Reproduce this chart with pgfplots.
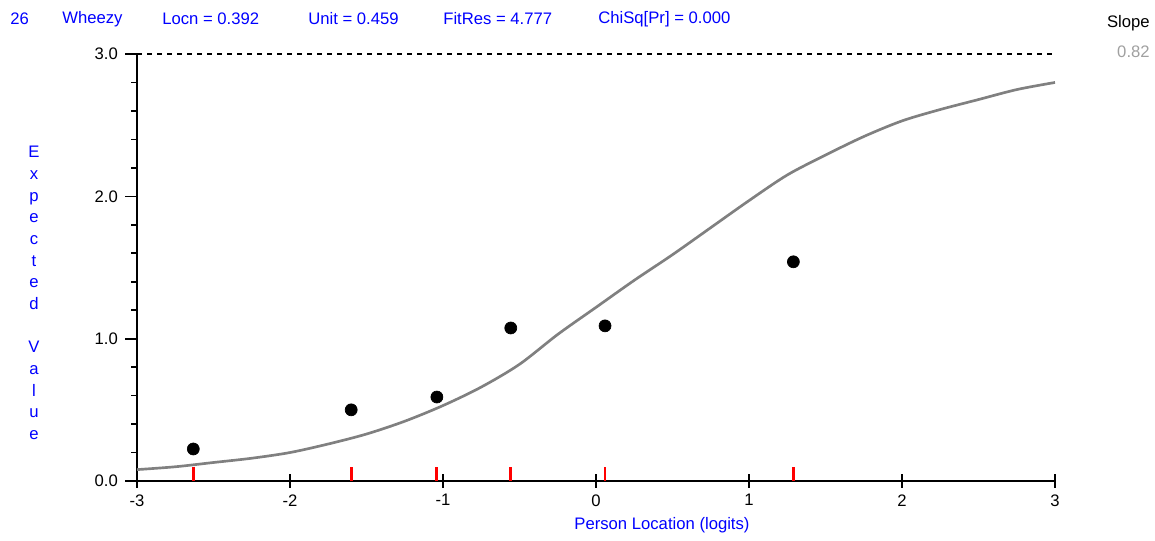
\documentclass[border=0pt]{standalone}
\usepackage{pgfplots}
\pgfplotsset{compat=1.18}
\usepackage{fontspec}
\setmainfont{Liberation Sans}
\definecolor{hdrblue}{RGB}{0,0,255}
\definecolor{curvegray}{RGB}{128,128,128}
\definecolor{slopegray}{RGB}{160,160,160}
\begin{document}
\begin{tikzpicture}[font=\fontsize{10}{12}\selectfont]
\useasboundingbox (-82.2pt,-35.4pt) rectangle (610.8pt,288.6pt);
\begin{axis}[
  scale only axis,
  width=550.8pt, height=256.2pt,
  xmin=-3, xmax=3, ymin=0, ymax=3,
  axis lines=left,
  axis line style={line width=1.6pt, -},
  clip=false,
  xtick={-3,-2,-1,0,1,2,3},
  xticklabels={-3,-2,-1,0,1,2,3},
  ytick={0,1,2,3},
  yticklabels={0.0,1.0,2.0,3.0},
  minor ytick={0.2,0.4,0.6,0.8,1.2,1.4,1.6,1.8,2.2,2.4,2.6,2.8},
  major tick length=7pt,
  minor tick length=3.5pt,
  every tick/.style={black, line width=1pt},
  x tick style={/pgfplots/major tick length=8pt},
  xtick align=center,
  ytick align=outside,
  yticklabel style={anchor=east, xshift=-1pt},
  xticklabel style={anchor=north, yshift=-1pt},
]
\addplot[black, line width=0.8pt, dash pattern=on 3pt off 3pt] coordinates {(-3,3) (3,3)};
\addplot[curvegray, line width=1.6pt, smooth] coordinates {
(-3.00,0.08) (-2.75,0.10) (-2.50,0.13) (-2.25,0.16) (-2.00,0.20) (-1.75,0.26)
(-1.50,0.33) (-1.25,0.42) (-1.00,0.53) (-0.75,0.66) (-0.50,0.82) (-0.25,1.03)
(0.00,1.22) (0.25,1.41) (0.50,1.59) (0.75,1.78) (1.00,1.97) (1.25,2.15)
(1.50,2.29) (1.75,2.42) (2.00,2.53) (2.25,2.61) (2.50,2.68) (2.75,2.75) (3.00,2.80)};
\addplot[red, line width=1.7pt, ycomb, mark=none] coordinates {
(-2.632,0.098) (-1.60,0.098) (-1.04,0.098) (-0.557,0.098) (0.059,0.098) (1.29,0.098)};
\addplot[only marks, mark=*, mark size=3.6pt, black] coordinates {
(-2.632,0.225) (-1.60,0.50) (-1.04,0.59) (-0.557,1.075) (0.059,1.09) (1.29,1.54)};
\end{axis}
\begin{scope}[text=hdrblue]
\node[anchor=west, inner sep=0pt] at (-76.2pt,277.2pt) {26};
\node[anchor=west, inner sep=0pt] at (-45pt,277.2pt) {Wheezy};
\node[anchor=west, inner sep=0pt] at (15pt,277.2pt) {Locn = 0.392};
\node[anchor=west, inner sep=0pt] at (102.6pt,277.2pt) {Unit = 0.459};
\node[anchor=west, inner sep=0pt] at (183.6pt,277.2pt) {FitRes = 4.777};
\node[anchor=west, inner sep=0pt] at (276.6pt,277.2pt) {ChiSq[Pr] = 0.000};
\node[inner sep=0pt] at (315pt,-26.4pt) {Person Location (logits)};
\node[inner sep=0pt, align=center, font=\fontsize{10}{13}\selectfont] at (-61.8pt,112.8pt)
  {E\\x\\p\\e\\c\\t\\e\\d\\[13pt]V\\a\\l\\u\\e};
\end{scope}
\node[anchor=east, inner sep=0pt] at (607.8pt,274.8pt) {Slope};
\node[anchor=east, inner sep=0pt, text=slopegray] at (607.8pt,257.4pt) {0.82};
\end{tikzpicture}
\end{document}
